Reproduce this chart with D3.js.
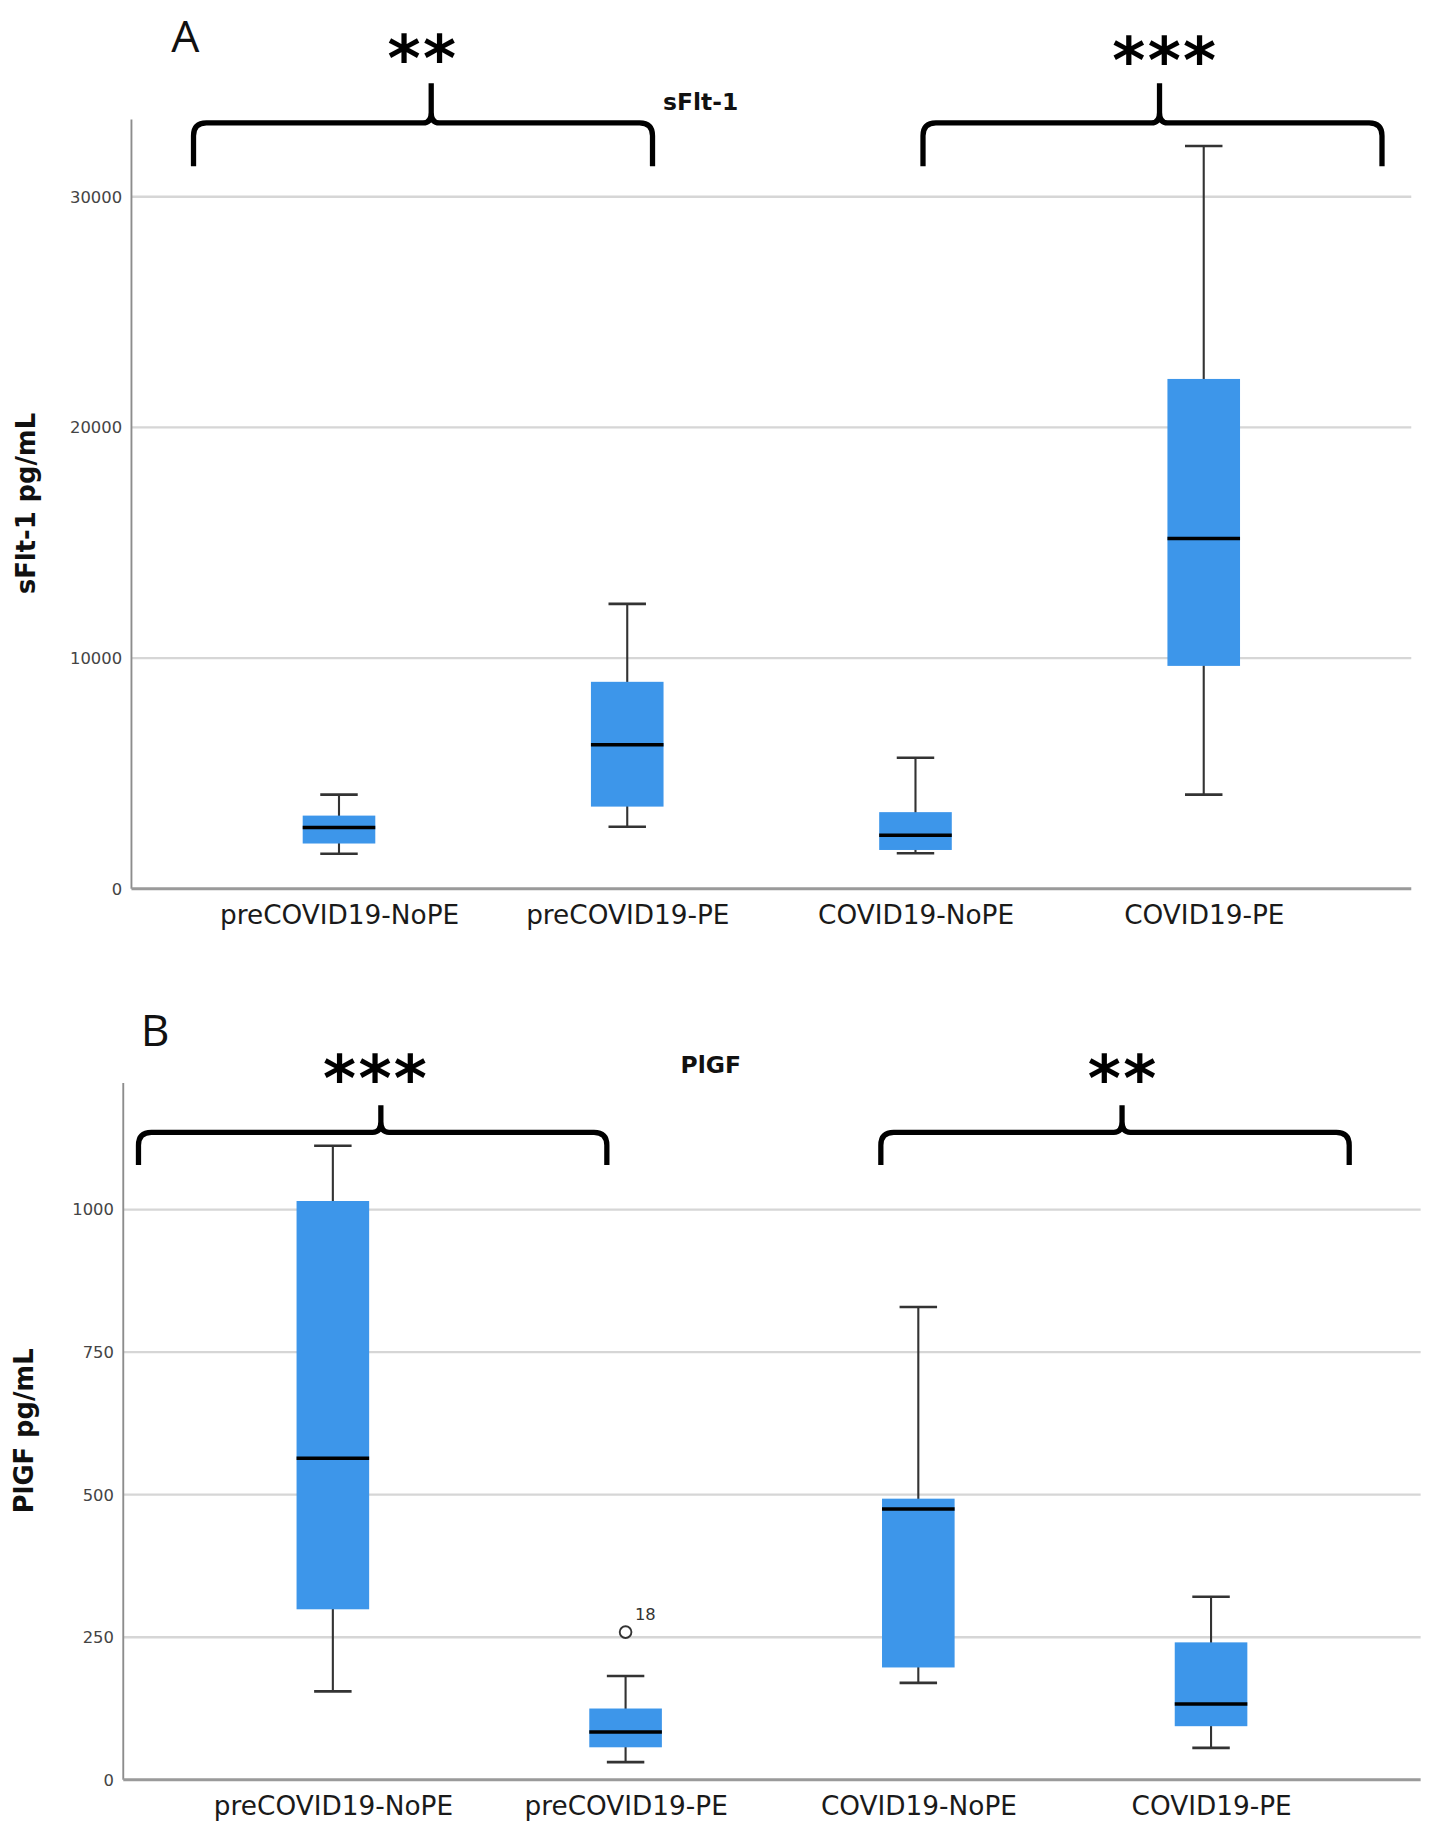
<!DOCTYPE html>
<html>
<head>
<meta charset="utf-8">
<script src="https://cdn.jsdelivr.net/npm/d3@7"></script>
<style>
  body { margin: 0; background: #fff; }
  svg { display: block; }
</style>
</head>
<body>
<div id="chart"></div>
<script>
// groups on the x axis
var groups = ["preCOVID19-NoPE", "preCOVID19-PE", "COVID19-NoPE", "COVID19-PE"];

// panel A: sFlt-1 (pg/mL) five-number summaries
var sfltMin = [1520, 2690, 1540, 4080];
var sfltQ1 = [1960, 3560, 1680, 9660];
var sfltMedian = [2650, 6240, 2320, 15180];
var sfltQ3 = [3170, 8970, 3320, 22100];
var sfltMax = [4080, 12350, 5680, 32200];
var sfltTicks = [0, 10000, 20000, 30000];

// panel B: PlGF (pg/mL)
var plgfMin = [155, 31, 170, 56];
var plgfQ1 = [299, 57, 197, 94];
var plgfMedian = [564, 84, 475, 133];
var plgfQ3 = [1015, 125, 493, 241];
var plgfMax = [1112, 182, 829, 321];
var plgfTicks = [0, 250, 500, 750, 1000];
var plgfOutliers = [{ group: "preCOVID19-PE", value: 259, label: "18" }];

var W = 1225, H = 1568;
var svg = d3.select("#chart")
    .append("svg")
    .attr("width", 1435)
    .attr("height", 1836)
    .attr("viewBox", "0 0 " + W + " " + H);

var boxFill = "#3d96ea";

function rows(mn, q1, md, q3, mx) {
    return groups.map(function (g, i) {
        return { key: g, min: mn[i], q1: q1[i], median: md[i], q3: q3[i], max: mx[i] };
    });
}

// curly brace spanning x1..x2, horizontal bar at y0, tip pointing up at xm
function bracePath(x1, x2, xm, y0, yTip, yEnd) {
    var r = 11;
    return "M" + x1 + "," + yEnd +
        " L" + x1 + "," + (y0 + r) +
        " Q" + x1 + "," + y0 + " " + (x1 + r) + "," + y0 +
        " L" + (xm - 7) + "," + y0 +
        " Q" + xm + "," + y0 + " " + xm + "," + (y0 - 9) +
        " L" + xm + "," + yTip +
        " M" + xm + "," + (y0 - 9) +
        " Q" + xm + "," + y0 + " " + (xm + 7) + "," + y0 +
        " L" + (x2 - r) + "," + y0 +
        " Q" + x2 + "," + y0 + " " + x2 + "," + (y0 + r) +
        " L" + x2 + "," + yEnd;
}

function drawPanel(p) {
    var g = svg.append("g");

    var x = d3.scalePoint()
        .domain(groups)
        .range([p.left, p.right])
        .padding(p.pad);
    var y = d3.scaleLinear()
        .domain([0, p.ticks[p.ticks.length - 1]])
        .range([p.bottom, p.topTick]);

    // gridlines
    g.append("g")
        .selectAll("line")
        .data(p.ticks.filter(function (t) { return t > 0; }))
        .enter().append("line")
        .attr("x1", p.left)
        .attr("x2", p.right)
        .attr("y1", function (d) { return y(d); })
        .attr("y2", function (d) { return y(d); })
        .attr("stroke", "#d6d6d6")
        .attr("stroke-width", 2);

    // y axis
    var yAxis = g.append("g")
        .attr("transform", "translate(" + p.left + ",0)")
        .call(d3.axisLeft(y).tickValues(p.ticks).tickFormat(d3.format("d")).tickSize(0).tickPadding(8));
    yAxis.select(".domain").remove();
    yAxis.selectAll("text")
        .attr("font-family", "DejaVu Sans")
        .attr("font-size", 14)
        .attr("fill", "#444");

    g.append("line")
        .attr("x1", p.left).attr("x2", p.left)
        .attr("y1", p.axisTop).attr("y2", p.bottom)
        .attr("stroke", "#8c8c8c")
        .attr("stroke-width", 1.6);

    // x axis
    var xAxis = g.append("g")
        .attr("transform", "translate(0," + p.bottom + ")")
        .call(d3.axisBottom(x).tickSize(0).tickPadding(14));
    xAxis.select(".domain").remove();
    xAxis.selectAll("text")
        .attr("font-family", "DejaVu Sans")
        .attr("font-size", 22.5)
        .attr("fill", "#1a1a1a");

    g.append("line")
        .attr("x1", p.left).attr("x2", p.right)
        .attr("y1", p.bottom).attr("y2", p.bottom)
        .attr("stroke", "#9a9a9a")
        .attr("stroke-width", 2.6);

    // y axis title
    g.append("text")
        .attr("transform", "translate(" + p.titleX + "," + p.titleY + ") rotate(-90)")
        .attr("text-anchor", "middle")
        .attr("font-family", "DejaVu Sans")
        .attr("font-weight", "bold")
        .attr("font-size", 22)
        .attr("fill", "#111")
        .text(p.yTitle);

    // chart title
    g.append("text")
        .attr("x", p.chartTitleX)
        .attr("y", p.chartTitleY)
        .attr("font-family", "DejaVu Sans")
        .attr("font-weight", "bold")
        .attr("font-size", 20)
        .attr("fill", "#111")
        .text(p.chartTitle);

    // boxes
    var bw = 62, cap = 32;
    var box = g.selectAll(".box")
        .data(p.data)
        .enter().append("g")
        .attr("class", "box");

    box.append("line")
        .attr("x1", function (d) { return x(d.key); })
        .attr("x2", function (d) { return x(d.key); })
        .attr("y1", function (d) { return y(d.max); })
        .attr("y2", function (d) { return y(d.min); })
        .attr("stroke", "#333")
        .attr("stroke-width", 1.8);

    box.selectAll(".cap")
        .data(function (d) { return [{ k: d.key, v: d.min }, { k: d.key, v: d.max }]; })
        .enter().append("line")
        .attr("class", "cap")
        .attr("x1", function (d) { return x(d.k) - cap / 2; })
        .attr("x2", function (d) { return x(d.k) + cap / 2; })
        .attr("y1", function (d) { return y(d.v); })
        .attr("y2", function (d) { return y(d.v); })
        .attr("stroke", "#333")
        .attr("stroke-width", 2.2);

    box.append("rect")
        .attr("x", function (d) { return x(d.key) - bw / 2; })
        .attr("y", function (d) { return y(d.q3); })
        .attr("width", bw)
        .attr("height", function (d) { return y(d.q1) - y(d.q3); })
        .attr("fill", boxFill);

    box.append("line")
        .attr("x1", function (d) { return x(d.key) - bw / 2; })
        .attr("x2", function (d) { return x(d.key) + bw / 2; })
        .attr("y1", function (d) { return y(d.median); })
        .attr("y2", function (d) { return y(d.median); })
        .attr("stroke", "#000")
        .attr("stroke-width", 3);

    // outliers
    var out = g.selectAll(".outlier")
        .data(p.outliers)
        .enter().append("g")
        .attr("class", "outlier");
    out.append("circle")
        .attr("cx", function (d) { return x(d.group); })
        .attr("cy", function (d) { return y(d.value); })
        .attr("r", 5)
        .attr("fill", "#fff")
        .attr("stroke", "#333")
        .attr("stroke-width", 1.6);
    out.append("text")
        .attr("x", function (d) { return x(d.group) + 8; })
        .attr("y", function (d) { return y(d.value) - 10; })
        .attr("font-family", "DejaVu Sans")
        .attr("font-size", 14)
        .attr("fill", "#333")
        .text(function (d) { return d.label; });

    // panel letter
    g.append("text")
        .attr("x", p.letterX)
        .attr("y", p.letterY)
        .attr("font-family", "Open Sans")
        .attr("font-size", 38)
        .attr("fill", "#111")
        .text(p.letter);

    // significance braces and stars
    p.braces.forEach(function (b) {
        g.append("path")
            .attr("d", bracePath(b.x1, b.x2, b.xm, b.y0, b.yTip, b.yEnd))
            .attr("fill", "none")
            .attr("stroke", "#000")
            .attr("stroke-width", 4.5)
            .attr("stroke-linejoin", "round");
        g.append("text")
            .attr("x", b.starX)
            .attr("y", b.starY)
            .attr("text-anchor", "middle")
            .attr("font-family", "DejaVu Sans")
            .attr("font-weight", "bold")
            .attr("font-size", 54)
            .attr("letter-spacing", 2)
            .attr("fill", "#000")
            .text(b.stars);
    });
}

drawPanel({
    data: rows(sfltMin, sfltQ1, sfltMedian, sfltQ3, sfltMax),
    outliers: [],
    ticks: sfltTicks,
    left: 112, right: 1205, pad: 0.72,
    bottom: 759, topTick: 168, axisTop: 102,
    yTitle: "sFlt-1 pg/mL", titleX: 30, titleY: 430,
    chartTitle: "sFlt-1", chartTitleX: 566, chartTitleY: 94,
    letter: "A", letterX: 146, letterY: 44,
    braces: [
        { x1: 165, x2: 557, xm: 368, y0: 105, yTip: 71, yEnd: 142, stars: "**", starX: 361, starY: 69 },
        { x1: 788, x2: 1180, xm: 990, y0: 105, yTip: 71, yEnd: 142, stars: "***", starX: 995, starY: 71 }
    ]
});

drawPanel({
    data: rows(plgfMin, plgfQ1, plgfMedian, plgfQ3, plgfMax),
    outliers: plgfOutliers,
    ticks: plgfTicks,
    left: 105, right: 1213, pad: 0.716,
    bottom: 1520, topTick: 1033, axisTop: 925,
    yTitle: "PlGF pg/mL", titleX: 28, titleY: 1222,
    chartTitle: "PlGF", chartTitleX: 581, chartTitleY: 916,
    letter: "B", letterX: 120, letterY: 893,
    braces: [
        { x1: 118, x2: 518, xm: 325, y0: 967, yTip: 944, yEnd: 995, stars: "***", starX: 321, starY: 940 },
        { x1: 752, x2: 1152, xm: 958, y0: 967, yTip: 944, yEnd: 995, stars: "**", starX: 959, starY: 940 }
    ]
});
</script>
</body>
</html>
